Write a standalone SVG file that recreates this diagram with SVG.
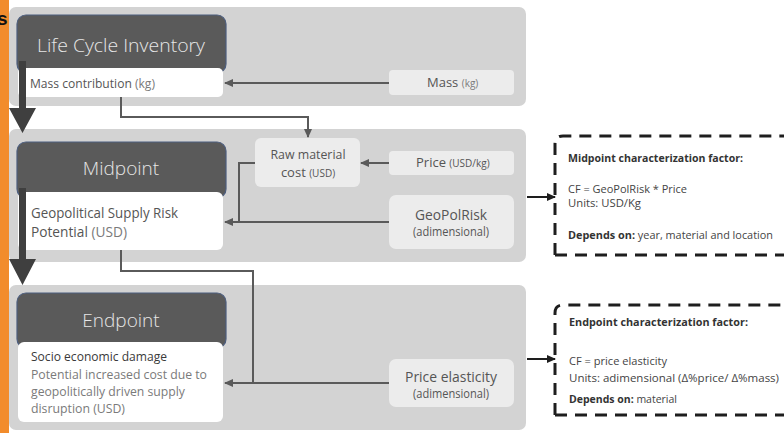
<svg xmlns="http://www.w3.org/2000/svg" width="784" height="433" viewBox="0 0 784 433">
<defs>
<style>
.panel{fill:#d3d3d3}
.hdr{fill:#5a5a5a;stroke:#4d5e7e;stroke-width:1.2}
.wbox{fill:#ffffff}
.ibox{fill:#ececec}
.htxt{font-family:"Open Sans","Liberation Sans",sans-serif;font-size:19px;font-weight:300;fill:#e6e6e6;text-anchor:middle}
.t{font-family:"Open Sans","Liberation Sans",sans-serif;fill:#555555}
.u{fill:#7a7a7a}
.c{text-anchor:middle}
.cf{font-family:"Open Sans","Liberation Sans",sans-serif;font-size:11px;fill:#444444}
.b{font-weight:bold;fill:#333333}
.con{fill:none;stroke:#5a5a5a;stroke-width:2}
.dash{fill:none;stroke:#1e1e1e;stroke-width:3;stroke-dasharray:12 8}
.big{fill:#3f3f3f}
</style>
<marker id="ah" markerWidth="10" markerHeight="10" refX="8" refY="5" orient="auto" markerUnits="userSpaceOnUse">
<path d="M0,1 L9,5 L0,9 Z" fill="#5a5a5a"/>
</marker>
<marker id="ahk" markerWidth="10" markerHeight="10" refX="8" refY="5" orient="auto" markerUnits="userSpaceOnUse">
<path d="M0,1 L9,5 L0,9 Z" fill="#1e1e1e"/>
</marker>
</defs>
<rect x="0" y="0" width="784" height="433" fill="#ffffff"/>
<rect x="0" y="0" width="9" height="433" fill="#f28c2c"/>
<text x="-3" y="25" font-family="Liberation Sans,sans-serif" font-size="19" font-weight="bold" fill="#111">s</text>

<g id="panels">
<rect class="panel" x="9" y="7" width="517" height="99" rx="7"/>
<rect class="panel" x="9" y="129" width="517" height="133" rx="7"/>
<rect class="panel" x="9" y="285" width="517" height="145" rx="7"/>
</g>

<g id="lci">
<rect class="hdr" x="17" y="15" width="209" height="58" rx="9"/>
<text class="htxt" x="121" y="52" textLength="168" lengthAdjust="spacingAndGlyphs">Life Cycle Inventory</text>
<rect class="wbox" x="18" y="68" width="205" height="29" rx="5"/>
<text class="t" x="30" y="88" font-size="12" textLength="125" lengthAdjust="spacingAndGlyphs">Mass contribution <tspan class="u">(kg)</tspan></text>
</g>

<g id="midpoint">
<rect class="hdr" x="17" y="142" width="209" height="56" rx="9"/>
<text class="htxt" x="121" y="175">Midpoint</text>
<rect class="wbox" x="18" y="192" width="205" height="58" rx="6"/>
<text class="t" x="31" y="218" font-size="14" textLength="147" lengthAdjust="spacingAndGlyphs">Geopolitical Supply Risk</text>
<text class="t" x="31" y="237" font-size="14" textLength="96" lengthAdjust="spacingAndGlyphs">Potential <tspan class="u">(USD)</tspan></text>
</g>

<g id="endpoint">
<rect class="hdr" x="17" y="293" width="209" height="55" rx="9"/>
<text class="htxt" x="121" y="327">Endpoint</text>
<rect class="wbox" x="18" y="342" width="205" height="80" rx="6"/>
<text class="t" x="31" y="361" font-size="12.5" textLength="136" lengthAdjust="spacingAndGlyphs" style="fill:#3a3a3a">Socio economic damage</text>
<text class="t u" x="31" y="379" font-size="13" textLength="176" lengthAdjust="spacingAndGlyphs">Potential increased cost due to</text>
<text class="t u" x="31" y="396" font-size="13" textLength="154" lengthAdjust="spacingAndGlyphs">geopolitically driven supply</text>
<text class="t u" x="31" y="413" font-size="13" textLength="94" lengthAdjust="spacingAndGlyphs">disruption (USD)</text>
</g>

<g id="mass">
<rect class="ibox" x="389" y="70" width="125" height="25" rx="4"/>
<text class="t" x="427" y="87" font-size="13">Mass <tspan class="u" font-size="10">(kg)</tspan></text>
</g>

<g id="rawmaterial">
<rect class="ibox" x="255" y="138" width="105" height="49" rx="6"/>
<text class="t c" x="308" y="159" font-size="13" textLength="75" lengthAdjust="spacingAndGlyphs">Raw material</text>
<text class="t c" x="308" y="177" font-size="13">cost <tspan font-size="10">(USD)</tspan></text>
</g>

<g id="price">
<rect class="ibox" x="389" y="151" width="125" height="24" rx="4"/>
<text class="t" x="416" y="167" font-size="13">Price <tspan font-size="10">(USD/kg)</tspan></text>
</g>

<g id="geopolrisk">
<rect class="ibox" x="389" y="195" width="125" height="54" rx="7"/>
<text class="t c" x="451" y="220" font-size="15" textLength="72" lengthAdjust="spacingAndGlyphs">GeoPolRisk</text>
<text class="t c" x="451" y="236" font-size="12" textLength="76" lengthAdjust="spacingAndGlyphs">(adimensional)</text>
</g>

<g id="priceelasticity">
<rect class="ibox" x="389" y="359" width="125" height="48" rx="7"/>
<text class="t c" x="451" y="382" font-size="15" textLength="92" lengthAdjust="spacingAndGlyphs">Price elasticity</text>
<text class="t c" x="451" y="398" font-size="12" textLength="76" lengthAdjust="spacingAndGlyphs">(adimensional)</text>
</g>

<g id="midpoint-cf">
<path class="dash" d="M555,255 L555,144 Q555,136 563,136 L790,136 M555,255 L790,255"/>
<text class="cf b" x="568" y="162" textLength="175" lengthAdjust="spacingAndGlyphs">Midpoint characterization factor:</text>
<text class="cf" x="568" y="193" textLength="119" lengthAdjust="spacingAndGlyphs">CF = GeoPolRisk * Price</text>
<text class="cf" x="568" y="207" textLength="73" lengthAdjust="spacingAndGlyphs">Units: USD/Kg</text>
<text class="cf" x="568" y="239" textLength="205" lengthAdjust="spacingAndGlyphs"><tspan class="b">Depends on:</tspan> year, material and location</text>
</g>

<g id="endpoint-cf">
<path class="dash" d="M555,415 L555,313 Q555,305 563,305 L790,305 M555,415 L790,415"/>
<text class="cf b" x="569" y="326" textLength="179" lengthAdjust="spacingAndGlyphs">Endpoint characterization factor:</text>
<text class="cf" x="569" y="365" textLength="98" lengthAdjust="spacingAndGlyphs">CF = price elasticity</text>
<text class="cf" x="569" y="382" textLength="210" lengthAdjust="spacingAndGlyphs">Units: adimensional (Δ%price/ Δ%mass)</text>
<text class="cf" x="569" y="403" textLength="108" lengthAdjust="spacingAndGlyphs"><tspan class="b">Depends on:</tspan> material</text>
</g>

<g id="connectors">
<path class="big" d="M19,61 L26,61 L26,108 L36,108 L22.5,133 L9,108 L19,108 Z"/>
<path class="big" d="M19,188 L26,188 L26,259 L36,259 L22.5,285 L9,259 L19,259 Z"/>
<path class="con" d="M389,83 L225,83" marker-end="url(#ah)"/>
<path class="con" d="M121,97 L121,117 L308,117 L308,137" marker-end="url(#ah)"/>
<path class="con" d="M389,163 L361,163" marker-end="url(#ah)"/>
<path class="con" d="M255,163 L239,163 L239,222"/>
<path class="con" d="M389,222 L225,222" marker-end="url(#ah)"/>
<path class="con" d="M121,250 L121,271 L253,271 L253,383"/>
<path class="con" d="M389,383 L225,383" marker-end="url(#ah)"/>
<path class="con" d="M527,197 L555,197" style="stroke:#1e1e1e" marker-end="url(#ahk)"/>
<path class="con" d="M527,359 L555,359" style="stroke:#1e1e1e" marker-end="url(#ahk)"/>
</g>
</svg>
